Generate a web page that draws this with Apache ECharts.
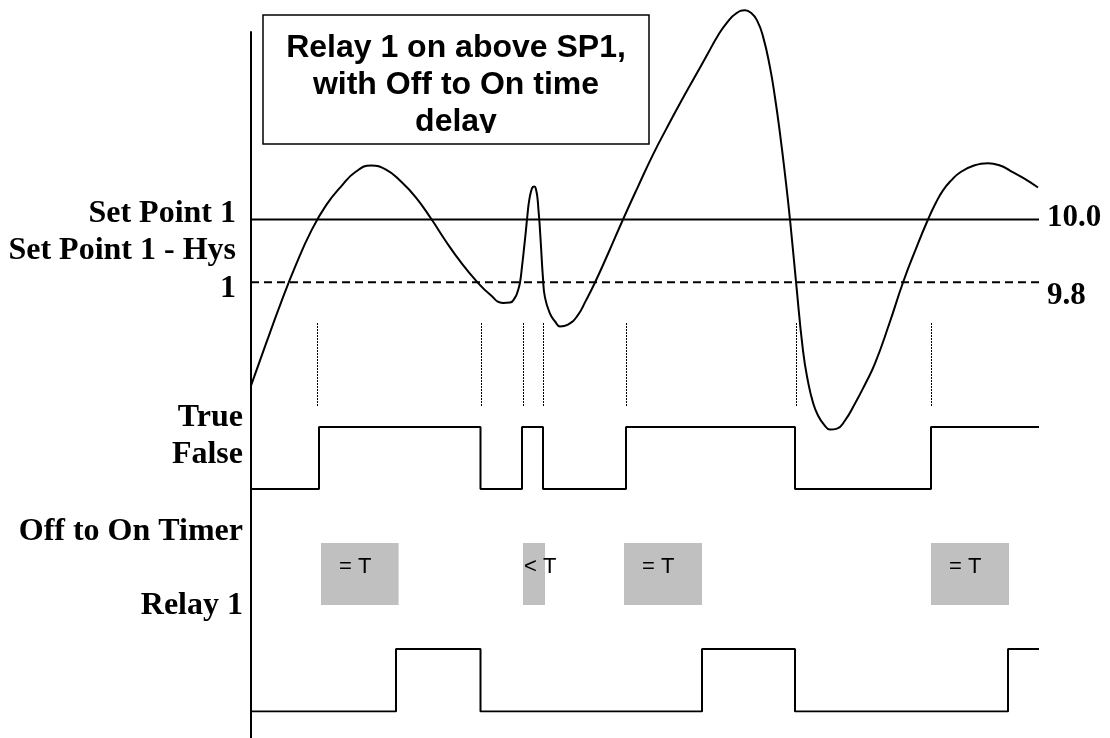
<!DOCTYPE html>
<html>
<head>
<meta charset="utf-8">
<title>Relay 1 on above SP1, with Off to On time delay</title>
<script src="https://cdn.jsdelivr.net/npm/echarts@6/dist/echarts.min.js"></script>
<style>
html, body { margin: 0; padding: 0; background: #fff; }
#main { width: 1110px; height: 738px; }
</style>
</head>
<body>
<div id="main"></div>
<script>
// time axis runs 0..788 across the plot
var timeMax = 788;
var setPoint = 10.0;
var setPointHys = 9.8;

// process value [time, value]
var processValue = [
  [0, 9.470], [15, 9.604], [30, 9.735], [45, 9.856], [60, 9.962], [75, 10.045],
  [90, 10.105], [105, 10.153], [120, 10.172], [135, 10.159], [150, 10.121], [165, 10.070],
  [180, 10.003], [195, 9.930], [210, 9.863], [225, 9.805], [239, 9.761], [252, 9.734],
  [259, 9.735], [264, 9.751], [267, 9.774], [269, 9.799], [271, 9.850], [273, 9.907],
  [275, 9.968], [276.5, 10.016], [278, 10.057], [280, 10.089], [282, 10.104], [283.5, 10.105],
  [285, 10.096], [286.5, 10.067], [287.5, 10.029], [288.5, 9.990], [290, 9.914], [292, 9.812],
  [294, 9.751], [299, 9.700], [304, 9.675], [309, 9.659], [317, 9.665], [326, 9.691],
  [335, 9.742], [344, 9.799], [358, 9.898], [372, 10.0], [387, 10.105], [402, 10.207],
  [416, 10.293], [430, 10.376], [444, 10.456], [457, 10.530], [467, 10.587], [476, 10.628],
  [485, 10.657], [494, 10.667], [500, 10.659], [506, 10.635], [512, 10.584], [519, 10.485],
  [524, 10.389], [529, 10.274], [534, 10.144], [539, 10.0], [545, 9.802], [552, 9.582],
  [557, 9.483], [562, 9.416], [567, 9.375], [573, 9.346], [579, 9.330], [586, 9.333],
  [594, 9.359], [604, 9.413], [614, 9.474], [624, 9.541], [638, 9.665], [652, 9.799],
  [665, 9.907], [677, 10.0], [685, 10.054], [692, 10.093], [700, 10.124], [709, 10.150],
  [723, 10.172], [737, 10.179], [749, 10.172], [759, 10.156], [773, 10.131], [787, 10.102]
];

// comparator (True/False) and relay output, 1 = on
var compareSteps = [[0, 0], [68, 1], [229.5, 0], [271, 1], [292, 0], [375, 1], [544, 0], [680, 1], [788, 1]];
var relaySteps = [[0, 0], [145, 1], [229.5, 0], [451, 1], [544, 0], [757, 1], [788, 1]];

// dotted marks where the comparator switches
var edgeTimes = [66, 229.5, 272, 292.3, 375, 544.7, 680];

// off to on timer
var timerStart = [70, 272, 373, 680];
var timerEnd = [147.6, 294, 451, 758];
var timerText = ['= T', '< T', '= T', '= T'];

var serifBold = 'bold 32px "Liberation Serif", "Times New Roman", serif';
var sansBold = 'bold 32px "Liberation Sans", Arial, sans-serif';

var chart = echarts.init(document.getElementById('main'));

var grids = [
  { left: 251, right: 71, top: 0, height: 439 },   // analog
  { left: 251, right: 71, top: 32, bottom: 0 },    // axis line
  { left: 251, right: 71, top: 323, height: 83 },  // dotted edges
  { left: 251, right: 71, top: 427, height: 62 },  // true/false
  { left: 251, right: 71, top: 543, height: 62 },  // timer
  { left: 251, right: 71, top: 649, height: 62.5 } // relay
];

var xAxes = grids.map(function (g, i) {
  return { type: 'value', gridIndex: i, min: 0, max: timeMax, show: false };
});
var yAxes = grids.map(function (g, i) {
  return { type: 'value', gridIndex: i, min: 0, max: 1, show: false };
});
yAxes[0].min = 9.3;
yAxes[0].max = 10.7;
yAxes[1] = {
  type: 'value', gridIndex: 1, min: 0, max: 1,
  axisLine: { show: true, onZero: false, lineStyle: { color: '#000', width: 2 } },
  axisTick: { show: false },
  axisLabel: { show: false },
  splitLine: { show: false }
};

var blackLine = { color: '#000', width: 2 };

function label(text, x, y, align, font) {
  return {
    type: 'text', x: x, y: y, z: 10,
    style: {
      text: text, font: font, fill: '#000',
      align: align, textAlign: align,
      verticalAlign: 'middle', textVerticalAlign: 'middle'
    }
  };
}

var option = {
  animation: false,
  backgroundColor: '#fff',
  grid: grids,
  xAxis: xAxes,
  yAxis: yAxes,
  graphic: [
    { type: 'rect', z: 5, shape: { x: 263, y: 15, width: 386, height: 129 },
      style: { fill: '#fff', stroke: '#000', lineWidth: 1.5 } },
    label('Relay 1 on above SP1,', 456, 48, 'center', sansBold),
    label('with Off to On time', 456, 85, 'center', sansBold),
    label('delay', 456, 122, 'center', sansBold),
    // text frame cuts the last line at its baseline
    { type: 'rect', z: 11, shape: { x: 265, y: 133, width: 382, height: 10 }, style: { fill: '#fff' } },
    label('Set Point 1', 236, 214, 'right', serifBold),
    label('Set Point 1 - Hys', 236, 251, 'right', serifBold),
    label('1', 236, 289, 'right', serifBold),
    label('True', 243, 418, 'right', serifBold),
    label('False', 243, 455, 'right', serifBold),
    label('Off to On Timer', 243, 532, 'right', serifBold),
    label('Relay 1', 243, 606, 'right', serifBold)
  ],
  series: [
    {
      name: 'PV', type: 'line', xAxisIndex: 0, yAxisIndex: 0,
      data: processValue, smooth: 0.5,
      symbol: 'none', lineStyle: blackLine
    },
    {
      name: 'SP1', type: 'line', xAxisIndex: 0, yAxisIndex: 0,
      data: [[0, setPoint], [timeMax, setPoint]],
      symbol: 'none', lineStyle: blackLine,
      endLabel: {
        show: true, formatter: setPoint.toFixed(1), color: '#000',
        fontFamily: 'Liberation Serif', fontWeight: 'bold', fontSize: 31,
        distance: 8, offset: [0, -2]
      }
    },
    {
      name: 'SP1 - Hys', type: 'line', xAxisIndex: 0, yAxisIndex: 0,
      data: [[0, setPointHys], [timeMax, setPointHys]],
      symbol: 'none', lineStyle: { color: '#000', width: 2, type: [8, 5] },
      endLabel: {
        show: true, formatter: String(setPointHys), color: '#000',
        fontFamily: 'Liberation Serif', fontWeight: 'bold', fontSize: 31,
        distance: 8, offset: [0, 14]
      }
    },
    {
      name: 'edges', type: 'custom', xAxisIndex: 2, yAxisIndex: 2,
      data: edgeTimes.map(function (t) { return [t, 0]; }),
      renderItem: function (params, api) {
        var top = api.coord([api.value(0), 1]);
        var bot = api.coord([api.value(0), 0]);
        var x = Math.round(top[0]) + 0.5;
        return {
          type: 'line',
          shape: { x1: x, y1: top[1], x2: x, y2: bot[1] },
          style: { stroke: '#000', lineWidth: 1, lineDash: [2, 1] }
        };
      }
    },
    {
      name: 'True/False', type: 'line', xAxisIndex: 3, yAxisIndex: 3,
      data: compareSteps, step: 'end', symbol: 'none', lineStyle: blackLine
    },
    {
      name: 'Timer', type: 'custom', xAxisIndex: 4, yAxisIndex: 4,
      data: timerStart.map(function (s, i) { return [s, timerEnd[i]]; }),
      encode: { x: [0, 1] },
      renderItem: function (params, api) {
        var p0 = api.coord([api.value(0), 1]);
        var p1 = api.coord([api.value(1), 0]);
        var w = p1[0] - p0[0];
        return {
          type: 'group',
          children: [
            { type: 'rect', shape: { x: p0[0], y: p0[1], width: w, height: p1[1] - p0[1] },
              style: { fill: '#c0c0c0' } },
            { type: 'text', x: p0[0] + (w > 40 ? 18 : 1), y: p0[1] + 24,
              style: { text: timerText[params.dataIndex], font: '22px "Liberation Sans", Arial, sans-serif',
                fill: '#000', verticalAlign: 'middle', textVerticalAlign: 'middle' } }
          ]
        };
      }
    },
    {
      name: 'Relay 1', type: 'line', xAxisIndex: 5, yAxisIndex: 5,
      data: relaySteps, step: 'end', symbol: 'none', lineStyle: blackLine
    }
  ]
};

chart.setOption(option);
</script>
</body>
</html>
